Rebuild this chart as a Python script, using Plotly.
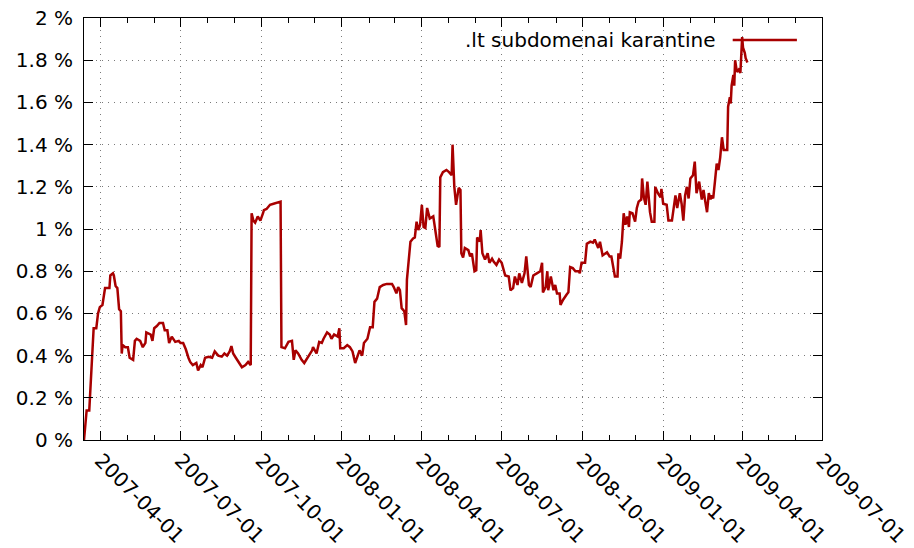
import pandas as pd
import plotly.graph_objects as go

# day number counted from start_date, and the share in percent
start_date = "2007-03-13"
days = [0, 3, 6, 9, 11, 14, 16, 18, 21, 24, 29, 30, 33, 34, 36, 38, 40, 42, 43, 44,
        47, 50, 52, 56, 58, 60, 64, 67, 70, 71, 76, 78, 80, 83, 86, 90, 92, 95, 97, 100,
        104, 108, 110, 113, 116, 119, 121, 124, 128, 130, 133, 135, 138, 142, 146, 149, 153, 157, 160, 163,
        166, 168, 170, 173, 176, 180, 184, 187, 190, 191, 193, 195, 198, 201, 204, 205, 208, 212, 216, 220,
        224, 225, 229, 233, 237, 239, 241, 244, 248, 251, 256, 260, 261, 265, 268, 271, 273, 277, 280, 282,
        285, 289, 291, 292, 296, 300, 303, 306, 309, 312, 314, 317, 319, 323, 326, 329, 331, 334, 337, 341,
        345, 351, 353, 356, 358, 360, 362, 365, 367, 368, 370, 372, 375, 377, 379, 381, 383, 385, 387, 389,
        391, 394, 398, 400, 403, 405, 406, 409, 413, 416, 419, 420, 422, 424, 427, 429, 430, 432, 434, 438,
        440, 442, 445, 447, 448, 451, 452, 454, 457, 460, 462, 465, 467, 470, 473, 476, 480, 484, 486, 489,
        491, 494, 496, 499, 502, 504, 507, 509, 512, 516, 520, 522, 523, 526, 528, 529, 532, 535, 537, 539,
        542, 543, 546, 550, 552, 554, 557, 560, 564, 565, 567, 571, 573, 577, 580, 582, 586, 588, 591, 596,
        599, 601, 603, 605, 608, 609, 611, 613, 615, 617, 619, 621, 622, 625, 628, 630, 632, 635, 636, 638,
        640, 642, 645, 647, 650, 651, 654, 657, 658, 660, 664, 666, 670, 672, 674, 676, 679, 681, 683, 685,
        687, 689, 691, 694, 696, 698, 701, 704, 706, 708, 710, 712, 714, 715, 717, 719, 721, 723, 725, 727,
        729, 733, 734, 736, 737, 738, 740, 741, 742, 744, 746, 748, 749, 750, 751, 753, 754, 756]
share = [0.0, 0.14, 0.14, 0.36, 0.53, 0.53, 0.60, 0.63, 0.64, 0.72, 0.72, 0.78, 0.79, 0.78, 0.73, 0.72, 0.62, 0.61, 0.41, 0.45,
         0.44, 0.44, 0.39, 0.38, 0.47, 0.48, 0.47, 0.44, 0.46, 0.51, 0.50, 0.47, 0.53, 0.54, 0.555, 0.555, 0.52, 0.52, 0.46, 0.49,
         0.465, 0.47, 0.46, 0.46, 0.43, 0.39, 0.37, 0.355, 0.365, 0.33, 0.355, 0.345, 0.39, 0.395, 0.39, 0.42, 0.40, 0.395, 0.41, 0.40,
         0.42, 0.445, 0.41, 0.39, 0.37, 0.345, 0.355, 0.37, 0.355, 1.075, 1.04, 1.03, 1.06, 1.04, 1.075, 1.09, 1.095, 1.115, 1.12, 1.125,
         1.13, 0.44, 0.435, 0.465, 0.47, 0.38, 0.425, 0.41, 0.38, 0.365, 0.395, 0.425, 0.44, 0.41, 0.465, 0.46, 0.48, 0.51, 0.50, 0.48,
         0.50, 0.49, 0.53, 0.435, 0.435, 0.45, 0.44, 0.42, 0.365, 0.40, 0.425, 0.40, 0.46, 0.48, 0.535, 0.535, 0.655, 0.67, 0.725, 0.735,
         0.74, 0.74, 0.725, 0.695, 0.725, 0.71, 0.625, 0.61, 0.545, 0.76, 0.87, 0.94, 0.955, 0.96, 1.035, 0.995, 1.02, 1.115, 1.01, 1.005,
         1.10, 1.05, 1.06, 1.01, 0.92, 0.915, 1.245, 1.27, 1.28, 1.27, 1.255, 1.40, 1.20, 1.115, 1.195, 1.185, 0.885, 0.865, 0.91, 0.90,
         0.87, 0.885, 0.80, 0.805, 0.96, 0.94, 0.995, 0.885, 0.855, 0.885, 0.84, 0.86, 0.845, 0.83, 0.855, 0.84, 0.78, 0.775, 0.71, 0.72,
         0.775, 0.735, 0.79, 0.745, 0.79, 0.87, 0.735, 0.725, 0.78, 0.79, 0.80, 0.84, 0.70, 0.725, 0.80, 0.71, 0.775, 0.71, 0.735, 0.695,
         0.695, 0.64, 0.665, 0.69, 0.70, 0.82, 0.815, 0.80, 0.80, 0.79, 0.84, 0.84, 0.93, 0.94, 0.935, 0.95, 0.91, 0.94, 0.875, 0.89,
         0.87, 0.87, 0.83, 0.775, 0.775, 0.885, 0.86, 0.94, 1.075, 1.02, 1.06, 1.01, 1.08, 1.075, 1.035, 1.10, 1.13, 1.14, 1.24, 1.15,
         1.115, 1.225, 1.08, 1.035, 1.035, 1.20, 1.17, 1.15, 1.19, 1.12, 1.115, 1.04, 1.04, 1.105, 1.16, 1.10, 1.17, 1.12, 1.04, 1.16,
         1.20, 1.145, 1.24, 1.255, 1.32, 1.17, 1.225, 1.14, 1.185, 1.13, 1.08, 1.17, 1.14, 1.16, 1.145, 1.225, 1.31, 1.28, 1.34, 1.435,
         1.375, 1.375, 1.58, 1.625, 1.595, 1.68, 1.73, 1.68, 1.80, 1.745, 1.755, 1.74, 1.85, 1.91, 1.86, 1.835, 1.81, 1.79]

x_ticks = ["2007-04-01", "2007-07-01", "2007-10-01", "2008-01-01", "2008-04-01",
           "2008-07-01", "2008-10-01", "2009-01-01", "2009-04-01", "2009-07-01"]
y_ticks = [0, 0.2, 0.4, 0.6, 0.8, 1.0, 1.2, 1.4, 1.6, 1.8, 2.0]
y_labels = ["0 %", "0.2 %", "0.4 %", "0.6 %", "0.8 %", "1 %", "1.2 %", "1.4 %", "1.6 %", "1.8 %", "2 %"]
series_name = ".lt subdomenai karantine"

dates = pd.Timestamp(start_date) + pd.to_timedelta(days, unit="D")
red = "#a80000"
font_size = 20

fig = go.Figure()
fig.add_trace(go.Scatter(x=dates, y=share, mode="lines", name=series_name,
                         line=dict(color=red, width=2.5), showlegend=False))

# gnuplot style key: text first, then the line sample
fig.add_annotation(x=0.859, y=0.948, xref="paper", yref="paper", text=series_name,
                   showarrow=False, xanchor="right", yanchor="middle",
                   font=dict(size=font_size, color="black"))
fig.add_shape(type="line", xref="paper", yref="paper", x0=0.879, x1=0.966, y0=0.948, y1=0.948,
              line=dict(color=red, width=2.5))

axis_common = dict(showline=True, linecolor="black", linewidth=1, mirror="ticks",
                   ticks="inside", ticklen=9, tickcolor="black",
                   showgrid=True, gridcolor="#7a7a7a", griddash="1px,5px", gridwidth=1,
                   zeroline=False, ticklabeloverflow="allow",
                   tickfont=dict(family="DejaVu Sans", size=font_size, color="black"))

fig.update_xaxes(range=[start_date, "2009-07-01"], tickvals=x_ticks, tickformat="%Y-%m-%d",
                 tickangle=45, automargin=False,
                 minor=dict(dtick="M1", ticks="inside", ticklen=5, tickcolor="black", showgrid=False),
                 **axis_common)
fig.update_yaxes(range=[0, 2.0005], tickvals=y_ticks, ticktext=y_labels, automargin=False,
                 ticklabelstandoff=6, **axis_common)

fig.update_layout(width=914, height=548, margin=dict(l=84, r=92, t=18, b=108),
                  plot_bgcolor="white", paper_bgcolor="white",
                  font=dict(family="DejaVu Sans", size=font_size, color="black"))

# drop the default page margin so the figure sits at the top-left corner
fig.write_html("out.html", config={"displayModeBar": False},
               post_script="document.body.style.margin = '0';")
